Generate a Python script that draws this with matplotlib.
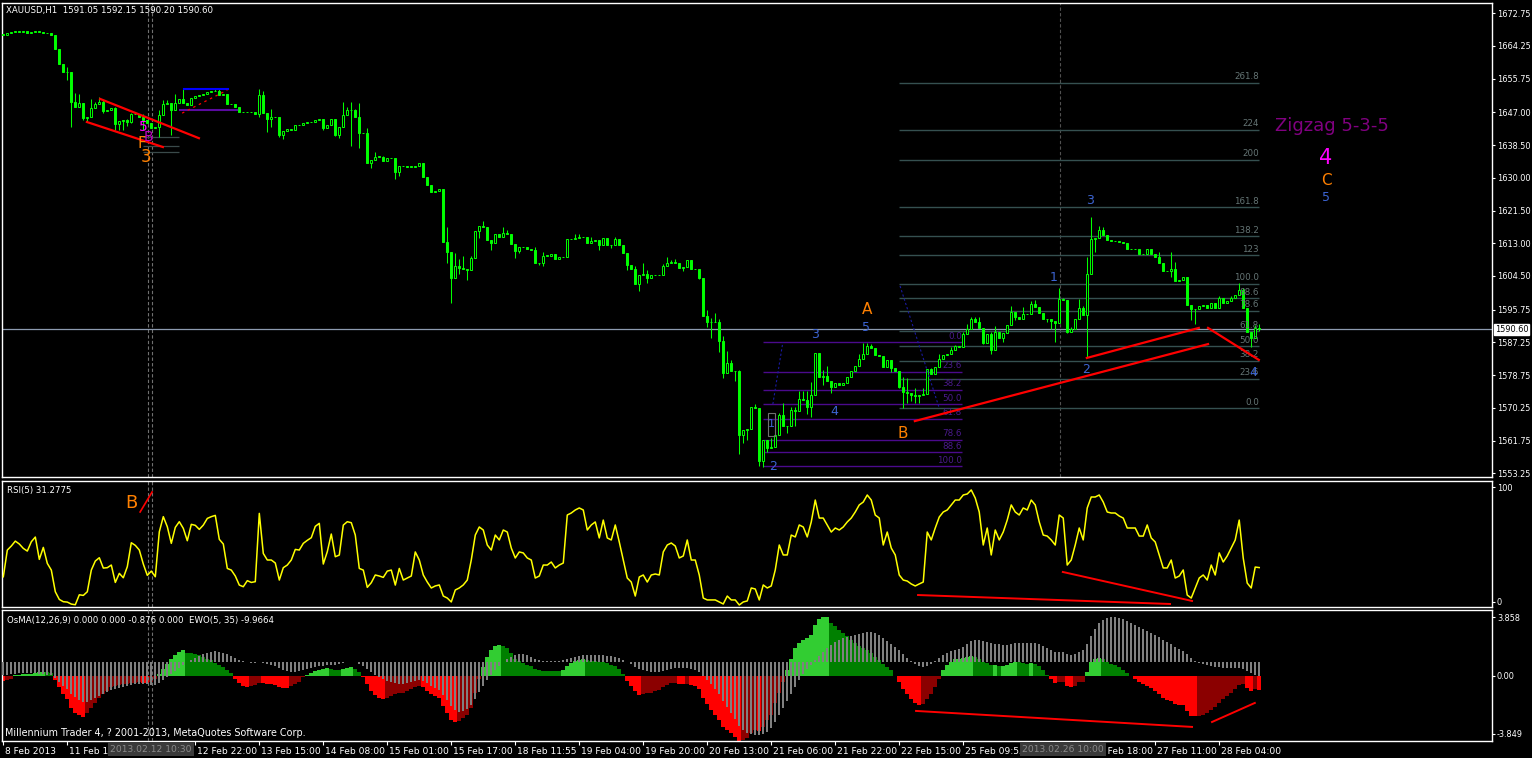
import matplotlib.pyplot as plt
from matplotlib.patches import Rectangle
from matplotlib.transforms import ScaledTranslation

# ---- price data (H1 closes, bar 0 = 8 Feb 2013) ----
open0 = 1667.3
closes = [
    1667.1, 1667.5, 1667.8, 1668.1, 1667.8, 1668.1, 1667.7, 1667.8, 1668.1, 1668.0,
    1667.5, 1667.5, 1667.1, 1663.4, 1659.7, 1657.4, 1657.4, 1649.8, 1648.3, 1649.4,
    1645.6, 1645.9, 1648.1, 1649.2, 1649.6, 1647.4, 1647.6, 1648.1, 1643.9, 1644.8,
    1645.0, 1644.6, 1646.6, 1646.5, 1645.9, 1645.0, 1644.2, 1642.9, 1643.1, 1646.3,
    1649.2, 1649.4, 1647.6, 1649.5, 1650.6, 1649.4, 1648.9, 1650.8, 1651.3, 1651.4,
    1651.7, 1652.3, 1652.5, 1652.6, 1651.6, 1651.8, 1649.1, 1649.2, 1648.3, 1647.0,
    1647.0, 1647.0, 1647.1, 1646.7, 1651.6, 1646.8, 1645.4, 1645.7, 1645.7, 1641.0,
    1642.2, 1642.6, 1642.4, 1643.6, 1643.6, 1644.2, 1644.4, 1644.4, 1645.0, 1645.4,
    1642.9, 1643.6, 1645.2, 1641.1, 1643.1, 1646.4, 1647.5, 1647.6, 1645.9, 1641.6,
    1641.6, 1633.9, 1634.5, 1635.5, 1635.5, 1634.3, 1635.1, 1635.2, 1631.6, 1633.1,
    1633.1, 1632.9, 1632.9, 1633.1, 1633.9, 1630.3, 1628.1, 1626.4, 1626.7, 1627.0,
    1613.4, 1610.8, 1603.9, 1607.2, 1606.7, 1606.2, 1606.0, 1609.1, 1616.2, 1617.5,
    1617.3, 1613.8, 1613.0, 1615.3, 1614.5, 1615.6, 1615.4, 1612.7, 1610.9, 1611.9,
    1611.9, 1611.4, 1611.2, 1607.8, 1607.9, 1609.8, 1609.8, 1610.2, 1609.0, 1609.3,
    1609.5, 1614.0, 1614.1, 1614.4, 1614.7, 1614.7, 1613.0, 1613.6, 1613.8, 1612.5,
    1614.4, 1612.6, 1612.5, 1614.0, 1612.5, 1610.4, 1607.4, 1606.3, 1602.3, 1604.8,
    1605.1, 1603.9, 1604.7, 1604.8, 1604.7, 1607.2, 1607.9, 1608.1, 1607.9, 1606.6,
    1606.9, 1608.6, 1606.2, 1606.2, 1604.1, 1594.2, 1592.5, 1592.5, 1592.5, 1587.7,
    1579.4, 1581.8, 1579.8, 1579.9, 1563.2, 1564.6, 1564.7, 1570.4, 1570.1, 1556.5,
    1561.9, 1559.7, 1560.0, 1563.1, 1568.5, 1565.5, 1565.6, 1569.7, 1569.5, 1572.6,
    1572.3, 1570.4, 1573.7, 1584.6, 1578.2, 1578.5, 1577.1, 1575.6, 1576.6, 1576.2,
    1576.6, 1578.3, 1579.9, 1581.2, 1583.0, 1584.2, 1586.3, 1585.7, 1583.9, 1583.7,
    1580.8, 1582.6, 1580.7, 1579.7, 1575.7, 1574.3, 1574.2, 1573.6, 1573.3, 1573.5,
    1573.8, 1580.2, 1579.1, 1580.9, 1582.8, 1584.0, 1584.2, 1585.2, 1586.3, 1586.1,
    1589.4, 1590.8, 1593.2, 1592.6, 1591.0, 1587.2, 1589.4, 1585.3, 1589.9, 1588.5,
    1589.8, 1591.7, 1595.1, 1593.9, 1593.4, 1594.7, 1594.6, 1597.2, 1596.5, 1594.9,
    1593.3, 1593.2, 1592.7, 1592.2, 1598.6, 1598.3, 1590.0, 1590.6, 1593.2, 1596.3,
    1594.4, 1604.9, 1614.2, 1614.4, 1616.5, 1615.2, 1613.8, 1613.6, 1613.6, 1613.2,
    1613.0, 1611.4, 1611.4, 1611.4, 1610.2, 1610.2, 1611.6, 1610.1, 1609.5, 1607.8,
    1605.7, 1605.7, 1606.4, 1603.3, 1603.5, 1604.2, 1597.0, 1595.8, 1596.0, 1596.7,
    1597.0, 1596.1, 1597.6, 1596.2, 1598.8, 1597.5, 1598.1, 1598.8, 1599.5, 1600.8,
    1596.3, 1590.0, 1588.4, 1591.05, 1590.60]

# wick extremes that stick out of the bodies (bar -> price)
hi_ext = {16: 1658.9, 18: 1652.1, 19: 1651.9, 22: 1650.6, 23: 1649.8, 24: 1650.9, 25: 1650.2,
          28: 1648.3, 31: 1645.2, 32: 1646.9, 35: 1646.7, 39: 1647.6, 40: 1650.2, 41: 1650.2,
          43: 1651.8, 45: 1653.2, 53: 1653.4, 54: 1653.4, 64: 1653.2, 65: 1652.6, 67: 1647.8,
          85: 1649.6, 86: 1648.3, 87: 1649.6, 88: 1647.8, 89: 1649.4, 91: 1642.9, 93: 1636.8,
          95: 1635.7, 111: 1617.3, 113: 1610.4, 114: 1608.8, 115: 1609.7, 117: 1609.7,
          120: 1618.8, 125: 1617.1, 126: 1616.4, 133: 1612.1, 135: 1610.8, 143: 1615.3,
          144: 1615.3, 147: 1614.7, 153: 1614.7, 158: 1607.1, 160: 1607.8, 161: 1606.0,
          165: 1607.5, 166: 1609.3, 167: 1608.6, 168: 1608.8, 176: 1595.7, 177: 1593.5,
          178: 1594.8, 179: 1593.3, 180: 1588.9, 181: 1585.0, 182: 1582.7, 184: 1580.0,
          187: 1570.5, 188: 1571.2, 192: 1562.3, 194: 1568.8, 195: 1571.4, 197: 1570.5,
          198: 1570.5, 199: 1574.7, 200: 1574.7, 201: 1574.7, 202: 1576.9, 204: 1584.6,
          205: 1580.1, 206: 1581.1, 214: 1584.2, 215: 1587.0, 216: 1587.0, 217: 1586.8,
          218: 1584.8, 225: 1578.3, 226: 1577.9, 228: 1575.3, 230: 1575.3, 232: 1580.5,
          234: 1584.2, 237: 1586.1, 238: 1586.6, 240: 1590.0, 241: 1592.0, 242: 1593.9,
          243: 1593.9, 244: 1593.9, 247: 1589.9, 248: 1591.5, 252: 1596.7, 255: 1596.5,
          257: 1598.0, 258: 1598.3, 263: 1592.2, 264: 1601.5, 265: 1598.9, 267: 1591.3,
          269: 1598.5, 270: 1596.7, 271: 1609.3, 272: 1619.9, 274: 1617.5, 275: 1617.3,
          289: 1610.8, 292: 1610.8, 293: 1608.2, 296: 1603.9, 304: 1599.3, 307: 1599.3,
          309: 1602.6, 310: 1601.3, 313: 1591.7, 314: 1592.15}
lo_ext = {16: 1655.4, 17: 1643.3, 20: 1645.0, 21: 1644.6, 25: 1646.8, 28: 1642.4, 29: 1642.4,
          30: 1642.4, 31: 1643.5, 32: 1644.2, 35: 1642.4, 39: 1640.7, 42: 1641.2, 64: 1645.9,
          66: 1642.0, 67: 1643.3, 69: 1640.7, 70: 1640.1, 80: 1642.4, 83: 1640.9, 84: 1640.3,
          87: 1638.3, 89: 1637.7, 92: 1632.5, 98: 1629.6, 99: 1630.5, 111: 1607.8, 112: 1597.4,
          114: 1605.0, 116: 1603.5, 119: 1614.3, 122: 1611.2, 128: 1609.1, 129: 1610.4,
          134: 1607.3, 135: 1607.1, 149: 1611.2, 152: 1611.7, 156: 1606.0, 159: 1600.7,
          161: 1602.8, 170: 1605.9, 174: 1603.6, 176: 1591.3, 177: 1588.5, 179: 1584.8,
          180: 1577.9, 183: 1577.3, 184: 1558.2, 185: 1561.0, 186: 1562.0, 189: 1555.2,
          190: 1554.9, 191: 1558.8, 196: 1563.6, 198: 1565.5, 201: 1568.6, 202: 1567.9,
          205: 1576.2, 207: 1574.0, 222: 1579.6, 224: 1575.3, 225: 1570.1, 226: 1571.6,
          227: 1572.0, 228: 1571.6, 229: 1571.4, 231: 1574.2, 245: 1586.8, 247: 1584.1,
          250: 1587.4, 253: 1593.1, 261: 1592.6, 262: 1590.6, 263: 1587.4, 266: 1589.8,
          271: 1583.5, 272: 1605.0, 273: 1610.8, 292: 1604.3, 297: 1593.1, 298: 1592.0,
          312: 1586.1, 314: 1590.20}

# RSI(5), one value per bar
rsi = [
    24.0, 45.2, 48.4, 52.3, 50.0, 46.5, 44.4, 51.8, 55.5, 37.8,
    47.3, 34.6, 29.3, 12.1, 6.0, 4.2, 3.9, 2.3, 1.8, 9.7,
    9.2, 12.1, 29.3, 36.5, 39.1, 30.9, 31.2, 33.3, 19.5, 26.7,
    23.2, 32.0, 51.0, 48.9, 45.2, 34.1, 25.1, 28.5, 24.0, 59.7,
    71.7, 63.7, 50.5, 63.2, 67.7, 62.4, 52.6, 65.6, 64.8, 61.6,
    65.0, 70.3, 71.7, 72.7, 53.7, 50.0, 30.6, 29.3, 24.6, 17.4,
    16.1, 20.9, 19.5, 20.1, 74.3, 42.5, 37.3, 37.3, 34.9, 21.4,
    31.2, 33.3, 37.3, 45.7, 45.2, 50.5, 52.9, 55.0, 64.0, 66.4,
    34.1, 43.9, 57.9, 39.9, 41.2, 65.0, 67.7, 66.9, 57.1, 30.6,
    29.3, 15.6, 19.3, 25.4, 24.6, 23.5, 28.5, 29.3, 17.4, 30.6,
    21.4, 23.0, 24.6, 43.7, 37.3, 25.4, 19.8, 15.1, 16.7, 17.5,
    8.7, 7.1, 4.0, 13.5, 15.1, 17.5, 21.4, 37.3, 57.1, 63.5,
    61.1, 49.2, 45.2, 57.1, 53.2, 61.1, 59.5, 46.8, 38.9, 43.7,
    42.9, 38.9, 37.3, 23.0, 24.6, 33.3, 33.3, 35.7, 31.0, 33.3,
    34.9, 73.0, 74.6, 77.0, 78.6, 77.0, 61.1, 65.1, 67.5, 54.8,
    69.0, 54.8, 53.2, 65.1, 51.6, 37.3, 23.0, 19.8, 8.7, 23.8,
    25.4, 19.8, 25.4, 26.2, 25.4, 43.7, 49.2, 50.8, 48.4, 38.9,
    40.5, 53.2, 37.3, 37.3, 25.4, 7.1, 5.6, 5.6, 5.6, 4.0,
    2.4, 8.7, 5.6, 5.6, 1.6, 4.0, 4.8, 15.1, 14.3, 5.6,
    17.5, 15.1, 16.7, 29.4, 49.2, 41.3, 41.3, 57.1, 55.6, 65.1,
    63.5, 55.6, 67.5, 84.9, 70.6, 70.6, 65.1, 59.5, 62.7, 61.1,
    63.5, 67.5, 70.6, 75.4, 81.0, 83.3, 88.9, 84.9, 73.0, 70.6,
    49.2, 59.5, 46.8, 41.3, 25.4, 21.4, 20.6, 18.3, 16.7, 18.3,
    19.8, 59.5, 53.2, 62.7, 71.4, 75.4, 77.0, 81.0, 84.9, 84.9,
    88.9, 89.7, 92.9, 86.5, 75.4, 49.2, 62.7, 41.3, 61.1, 53.2,
    59.5, 69.0, 81.0, 75.4, 73.0, 78.6, 77.0, 84.9, 81.0, 67.5,
    57.1, 56.3, 53.2, 49.2, 73.0, 70.6, 33.3, 37.3, 49.2, 62.7,
    53.2, 78.6, 87.3, 87.3, 88.9, 83.3, 75.4, 74.6, 74.6, 72.2,
    70.6, 62.7, 62.7, 62.7, 56.3, 56.3, 65.1, 54.8, 51.6, 41.3,
    31.0, 31.0, 37.3, 23.0, 24.6, 29.4, 9.5, 7.1, 15.1, 23.0,
    25.4, 21.4, 33.3, 25.4, 42.9, 35.7, 40.5, 46.8, 53.2, 69.0,
    38.9, 19.0, 15.1, 31.7, 31.28]

# OsMA(12,26,9) histogram, one value per bar
osma = [
    -0.30, -0.28, -0.22, 0.03, 0.06, 0.08, 0.10, 0.12, 0.16, 0.20,
    0.23, 0.20, 0.13, -0.25, -0.70, -1.10, -1.40, -1.90, -2.20, -2.30,
    -2.42, -2.20, -1.93, -1.60, -1.30, -1.10, -0.90, -0.70, -0.60, -0.55,
    -0.52, -0.50, -0.45, -0.42, -0.40, -0.42, -0.45, -0.40, -0.20, 0.10,
    0.40, 0.70, 0.95, 1.20, 1.40, 1.50, 1.35, 1.30, 1.25, 1.20,
    1.10, 1.00, 0.90, 0.75, 0.60, 0.50, 0.35, 0.15, -0.20, -0.45,
    -0.60, -0.69, -0.60, -0.55, -0.45, -0.45, -0.50, -0.52, -0.55, -0.70,
    -0.75, -0.76, -0.60, -0.50, -0.40, -0.10, 0.05, 0.15, 0.25, 0.35,
    0.40, 0.42, 0.38, 0.32, 0.30, 0.38, 0.45, 0.49, 0.40, 0.20,
    -0.10, -0.50, -0.90, -1.15, -1.30, -1.38, -1.30, -1.20, -1.10, -1.05,
    -1.00, -0.90, -0.80, -0.70, -0.60, -0.70, -0.90, -1.10, -1.20, -1.30,
    -1.80, -2.20, -2.60, -2.75, -2.70, -2.50, -2.30, -1.90, -1.00, -0.20,
    0.50, 1.10, 1.50, 1.75, 1.80, 1.75, 1.60, 1.35, 1.00, 0.85,
    0.75, 0.65, 0.55, 0.40, 0.30, 0.28, 0.27, 0.26, 0.25, 0.24,
    0.30, 0.55, 0.75, 0.88, 0.93, 0.95, 0.90, 0.88, 0.86, 0.82,
    0.80, 0.72, 0.62, 0.55, 0.40, 0.10, -0.30, -0.60, -0.90, -1.14,
    -1.10, -1.05, -1.00, -0.92, -0.82, -0.70, -0.55, -0.45, -0.42, -0.48,
    -0.52, -0.50, -0.55, -0.60, -0.80, -1.30, -1.70, -2.00, -2.30, -2.60,
    -3.00, -3.20, -3.40, -3.60, -3.85, -3.80, -3.70, -3.40, -3.20, -3.25,
    -3.00, -2.60, -2.30, -1.60, -1.00, -0.40, 0.30, 1.00, 1.60, 1.90,
    2.10, 2.20, 2.40, 3.00, 3.30, 3.45, 3.45, 3.10, 2.90, 2.70,
    2.50, 2.30, 2.10, 1.90, 1.75, 1.60, 1.50, 1.30, 1.10, 0.90,
    0.70, 0.50, 0.30, 0.00, -0.40, -0.80, -1.10, -1.40, -1.60, -1.73,
    -1.70, -1.40, -1.10, -0.70, -0.20, 0.30, 0.60, 0.80, 0.95, 1.00,
    1.05, 1.10, 1.15, 1.10, 1.00, 0.80, 0.75, 0.60, 0.62, 0.55,
    0.55, 0.60, 0.75, 0.80, 0.78, 0.75, 0.70, 0.72, 0.70, 0.55,
    0.30, 0.05, -0.20, -0.45, -0.40, -0.35, -0.60, -0.70, -0.60, -0.40,
    -0.35, 0.20, 0.80, 1.00, 1.05, 0.95, 0.80, 0.70, 0.60, 0.50,
    0.35, 0.15, -0.05, -0.20, -0.40, -0.50, -0.60, -0.75, -0.90, -1.10,
    -1.30, -1.45, -1.50, -1.65, -1.73, -1.75, -2.10, -2.35, -2.40, -2.35,
    -2.30, -2.20, -2.00, -1.85, -1.60, -1.40, -1.20, -1.00, -0.80, -0.55,
    -0.50, -0.75, -0.90, -0.80, -0.876]

# EWO(5,35) histogram (own scale), one value per bar
ewo = [
    -13, -13, -12, -12, -11, -11, -11, -11, -11, -12,
    -12, -13, -13, -16, -20, -24, -27, -32, -35, -38,
    -40, -40, -38, -36, -34, -32, -30, -28, -27, -26,
    -25, -24, -23, -22, -22, -22, -22, -23, -23, -21,
    -18, -15, -12, -9, -6, -3, 0, 2, 4, 6,
    8, 9, 10, 11, 10, 9, 8, 6, 4, 2,
    1, 0, -1, -1, 0, -1, -2, -3, -4, -6,
    -8, -9, -10, -10, -9, -8, -7, -6, -5, -4,
    -4, -3, -3, -3, -2, -1, 0, 0, 0, -2,
    -4, -7, -10, -13, -15, -17, -19, -20, -21, -22,
    -22, -21, -20, -19, -18, -19, -21, -24, -26, -28,
    -33, -38, -44, -48, -50, -49, -47, -43, -37, -30,
    -24, -18, -13, -8, -4, 0, 3, 5, 7, 8,
    8, 7, 5, 3, 2, 1, 1, 1, 1, 1,
    2, 3, 4, 5, 6, 7, 7, 7, 7, 7,
    7, 6, 6, 5, 4, 2, 0, -2, -5, -7,
    -8, -9, -10, -10, -10, -9, -8, -7, -6, -6,
    -6, -6, -7, -8, -10, -14, -18, -22, -27, -32,
    -39, -45, -51, -57, -64, -68, -71, -72, -73, -73,
    -72, -70, -66, -60, -53, -46, -39, -32, -25, -18,
    -12, -7, -3, 2, 6, 10, 14, 17, 20, 22,
    24, 25, 26, 27, 28, 29, 30, 30, 29, 27,
    24, 21, 18, 15, 12, 8, 4, 1, -2, -4,
    -5, -4, -2, 1, 4, 7, 9, 11, 12, 13,
    15, 18, 21, 22, 22, 21, 20, 19, 18, 18,
    17, 17, 18, 19, 19, 19, 19, 19, 19, 18,
    16, 14, 12, 10, 10, 10, 8, 7, 8, 10,
    12, 18, 26, 33, 39, 42, 44, 45, 45, 44,
    43, 41, 39, 37, 35, 33, 31, 29, 27, 25,
    22, 20, 18, 15, 13, 11, 8, 4, 1, -1,
    -2, -3, -4, -5, -5, -6, -6, -6, -6, -6,
    -7, -9, -11, -13, -14]

last_price = 1590.60
price_ticks = [1672.75, 1664.25, 1655.75, 1647.00, 1638.50, 1630.00, 1621.50, 1613.00,
               1604.50, 1595.75, 1587.25, 1578.75, 1570.25, 1561.75, 1553.25]
time_labels = ["8 Feb 2013", "11 Feb 13:00", "12 Feb 06:00", "12 Feb 22:00", "13 Feb 15:00",
               "14 Feb 08:00", "15 Feb 01:00", "15 Feb 17:00", "18 Feb 11:55", "19 Feb 04:00",
               "19 Feb 20:00", "20 Feb 13:00", "21 Feb 06:00", "21 Feb 22:00", "22 Feb 15:00",
               "25 Feb 09:55", "26 Feb 02:00", "26 Feb 18:00", "27 Feb 11:00", "28 Feb 04:00"]
label_step = 16

# fibonacci retracements: (price at 0, price at 100)
fib_small = (1587.27, 1555.06)
fib_small_levels = [0.0, 23.6, 38.2, 50.0, 61.8, 78.6, 88.6, 100.0]
fib_big = (1570.13, 1602.42)
fib_big_levels = [0.0, 23.6, 38.2, 50.0, 61.8, 78.6, 88.6, 100.0, 123, 138.2, 161.8, 200, 224, 261.8]

W, H = 1532, 758
LIME = '#00ff00'
FS = 6.3
fig = plt.figure(figsize=(W / 100, H / 100), dpi=100, facecolor='black')


def panel(top, bottom):
    ax = fig.add_axes([2 / W, 1 - bottom / H, 1490 / W, (bottom - top) / H])
    ax.set_facecolor('black')
    for s in ax.spines.values():
        s.set_color('white')
        s.set_linewidth(1)
    ax.set_xlim(-0.33, 372.2)
    ax.tick_params(axis='x', bottom=False, labelbottom=False)
    ax.yaxis.tick_right()
    ax.tick_params(axis='y', colors='white', labelsize=5.9, length=2.5, width=0.8, pad=1.0)
    return ax


ax = panel(3, 477)
ax_rsi = panel(481, 607)
ax_osc = panel(610, 741)
ax_ewo = fig.add_axes(ax_osc.get_position())
ax_ewo.patch.set_visible(False)
ax_ewo.axis('off')
ax_ewo.set_xlim(ax_osc.get_xlim())
ax_ewo.set_ylim(-79.3, 51.7)

# ---- candles ----
n = len(closes)
xs = list(range(n))
opens = [open0] + closes[:-1]
highs = [hi_ext.get(i, max(opens[i], closes[i])) for i in xs]
lows = [lo_ext.get(i, min(opens[i], closes[i])) for i in xs]
ax.vlines(xs, lows, highs, color=LIME, lw=0.75, zorder=3)
for i in xs:
    o, c = opens[i], closes[i]
    fill = 'black' if c >= o else LIME
    h = c - o if abs(c - o) > 0.05 else 0.05
    ax.bar(i, h, bottom=o, width=0.5, color=fill, edgecolor=LIME, linewidth=0.7, zorder=4)

ax.set_ylim(1552.27, 1675.42)
ax.set_yticks(price_ticks)
ax.set_yticklabels([f"{p:.2f}" for p in price_ticks])
ax.axhline(last_price, color='#8d9bb0', lw=0.9, zorder=2)
ax.text(1.0018, last_price, f"{last_price:.2f}", transform=ax.get_yaxis_transform(),
        fontsize=5.9, color='black', va='center', ha='left',
        bbox=dict(facecolor='white', edgecolor='white', pad=0.6))

# fib grids
a0, a100 = fib_small
for lv in fib_small_levels:
    p = a0 + (a100 - a0) * lv / 100
    ax.hlines(p, 189.9, 239.7, color='#4b0a8c', lw=1, zorder=2)
    ax.text(239.7, p + 0.4, f"{lv:.1f}", color='#4b1a8c', fontsize=FS, ha='right', va='bottom', zorder=5)
b0, b100 = fib_big
for lv in fib_big_levels:
    p = b0 + (b100 - b0) * lv / 100
    ax.hlines(p, 224.0, 313.9, color='#355050', lw=1, zorder=2)
    txt = f"{lv:.1f}" if lv <= 100 or lv in (138.2, 161.8, 261.8) else f"{lv:g}"
    ax.text(313.9, p + 0.4, txt, color='#657575', fontsize=FS, ha='right', va='bottom', zorder=5)

# trend lines and objects
red_lines = [((24.2, 1650.5), (48.9, 1640.3)), ((20.9, 1644.5), (39.9, 1638.0)),
             ((227.9, 1566.8), (301.2, 1586.8)), ((270.9, 1583.2), (298.9, 1591.0)),
             ((301.2, 1591.0), (313.9, 1582.7))]
for (x0, y0), (x1, y1) in red_lines:
    ax.plot([x0, x1], [y0, y1], color='red', lw=1.6, zorder=6)
ax.plot([45.2, 56.2], [1653.1, 1653.1], color='#0000ff', lw=1.5, zorder=5)
ax.plot([44.2, 58.4], [1647.6, 1647.6], color='#5a0aa0', lw=1.5, zorder=5)
ax.plot([44.7, 56.0], [1646.8, 1652.8], color='red', lw=0.9, ls=(0, (2, 3)), zorder=5)
ax.plot([224.2, 233.9], [1601.9, 1570.5], color='#1a1aa0', lw=0.8, ls=(0, (2, 2)), zorder=5)
ax.plot([192.4, 194.9], [1571.2, 1587.3], color='#1a1aa0', lw=0.8, ls=(0, (2, 2)), zorder=5)
ax.add_patch(Rectangle((191.2, 1562.9), 1.7, 5.9, fill=False, edgecolor='#707070', lw=0.8, zorder=6))
for lv_y in (1640.5, 1638.2, 1636.6):
    ax.hlines(lv_y, 35.0, 44.0, color='#3a4a4a', lw=0.9, zorder=2)

# wave labels
BLUE = '#3c64d2'
ORANGE = '#ff8000'
waves = [("A", 215.9, 1595.9, ORANGE, 11), ("5", 215.7, 1591.2, BLUE, 9),
         ("B", 224.9, 1563.7, ORANGE, 11), ("3", 202.9, 1589.2, BLUE, 9),
         ("4", 207.7, 1569.2, BLUE, 9), ("2", 192.4, 1555.1, BLUE, 9),
         ("1", 192.0, 1566.0, BLUE, 8), ("1", 262.7, 1604.2, BLUE, 9),
         ("3", 271.7, 1624.0, BLUE, 9), ("2", 270.7, 1580.1, BLUE, 9),
         ("4", 312.4, 1579.3, BLUE, 9), ("3", 35.7, 1635.4, ORANGE, 12),
         ("F", 34.6, 1639.0, ORANGE, 11), ("5", 34.9, 1643.2, '#ff00ff', 10),
         ("B", 36.2, 1640.5, '#c000c0', 10)]
for t, xw, yw, col, fs in waves:
    ax.text(xw, yw, t, color=col, fontsize=fs, ha='center', va='center', zorder=7)
ax.text(317.9, 1643.5, "Zigzag 5-3-5", color='#800080', fontsize=13, ha='left', va='center')
ax.text(330.7, 1635.2, "4", color='#ff00ff', fontsize=15, ha='center', va='center')
ax.text(330.7, 1629.4, "C", color=ORANGE, fontsize=11, ha='center', va='center')
ax.text(330.7, 1625.0, "5", color=BLUE, fontsize=9, ha='center', va='center')

# ---- RSI panel ----
ax_rsi.plot(xs, rsi, color='#ffff00', lw=1.1, zorder=3)
ax_rsi.set_ylim(0, 100)
ax_rsi.set_yticks([95.2, 3.97])
ax_rsi.set_yticklabels(["100", "0"])
ax_rsi.text(31.9, 82.5, "B", color=ORANGE, fontsize=13, ha='center', va='center')
ax_rsi.plot([34.2, 37.2], [75.4, 91.3], color='red', lw=1.2)
ax_rsi.plot([228.7, 291.7], [9.5, 2.4], color='red', lw=1.4, zorder=4)
ax_rsi.plot([264.9, 297.2], [27.8, 4.8], color='red', lw=1.4, zorder=4)

# ---- OsMA / EWO panel ----
osma_cols = []
for i, v in enumerate(osma):
    prev = osma[i - 1] if i else v
    if v >= 0:
        osma_cols.append('#32cd32' if v >= prev else '#008000')
    else:
        osma_cols.append('#ff0000' if v <= prev else '#8b0000')
ax_osc.bar(xs, osma, width=1.02, color=osma_cols, linewidth=0, zorder=2)
ax_osc.set_ylim(-3.849, 3.858)
ax_osc.set_yticks([3.446, 0.0, -3.437])
ax_osc.set_yticklabels(["3.858", "0.00", "-3.849"])
ax_ewo.bar(xs, ewo, width=0.5, color='#808080', linewidth=0, zorder=2)
ax_ewo.plot([228.2, 297.2], [-2.08, -3.02], color='red', lw=1.4, transform=ax_osc.transData, zorder=4)
ax_ewo.plot([302.2, 312.9], [-2.73, -1.61], color='red', lw=1.4, transform=ax_osc.transData, zorder=4)

# time axis
ax_osc.set_xticks([k * label_step for k in range(len(time_labels))])
ax_osc.set_xticklabels(time_labels)
ax_osc.tick_params(axis='x', bottom=True, labelbottom=True, colors='white', labelsize=6.6,
                   length=3, width=0.8, pad=1.5)
for lab in ax_osc.get_xticklabels():
    lab.set_ha('left')
    lab.set_transform(lab.get_transform() + ScaledTranslation(0.02, 0, fig.dpi_scale_trans))

# dashed verticals
for a in (ax, ax_rsi, ax_ewo):
    for xv in (36.1, 37.1):
        a.axvline(xv, color='#707070', lw=0.8, ls=(0, (3, 2)), zorder=1)
ax.axvline(264.2, color='#505050', lw=0.8, ls=(0, (3, 2)), zorder=1)

# texts
fig.text(6 / W, 1 - 10 / H, "XAUUSD,H1  1591.05 1592.15 1590.20 1590.60", color='white',
         fontsize=6.2, va='center')
fig.text(7 / W, 1 - 490 / H, "RSI(5) 31.2775", color='white', fontsize=6.2, va='center')
fig.text(7 / W, 1 - 620 / H, "OsMA(12,26,9) 0.000 0.000 -0.876 0.000  EWO(5, 35) -9.9664",
         color='white', fontsize=6.2, va='center')
fig.text(5 / W, 1 - 733 / H, "Millennium Trader 4, ? 2001-2013, MetaQuotes Software Corp.",
         color='white', fontsize=6.9, va='center')
fig.text(110 / W, 1 - 749 / H, "2013.02.12 10:30", color='#8a8a8a', fontsize=6.6, va='center',
         bbox=dict(facecolor='#3a3a3a', edgecolor='none', pad=1.5))
fig.text(1022 / W, 1 - 749 / H, "2013.02.26 10:00", color='#8a8a8a', fontsize=6.6, va='center',
         bbox=dict(facecolor='#3a3a3a', edgecolor='none', pad=1.5))

fig.savefig('out.png', dpi=100, facecolor='black')
